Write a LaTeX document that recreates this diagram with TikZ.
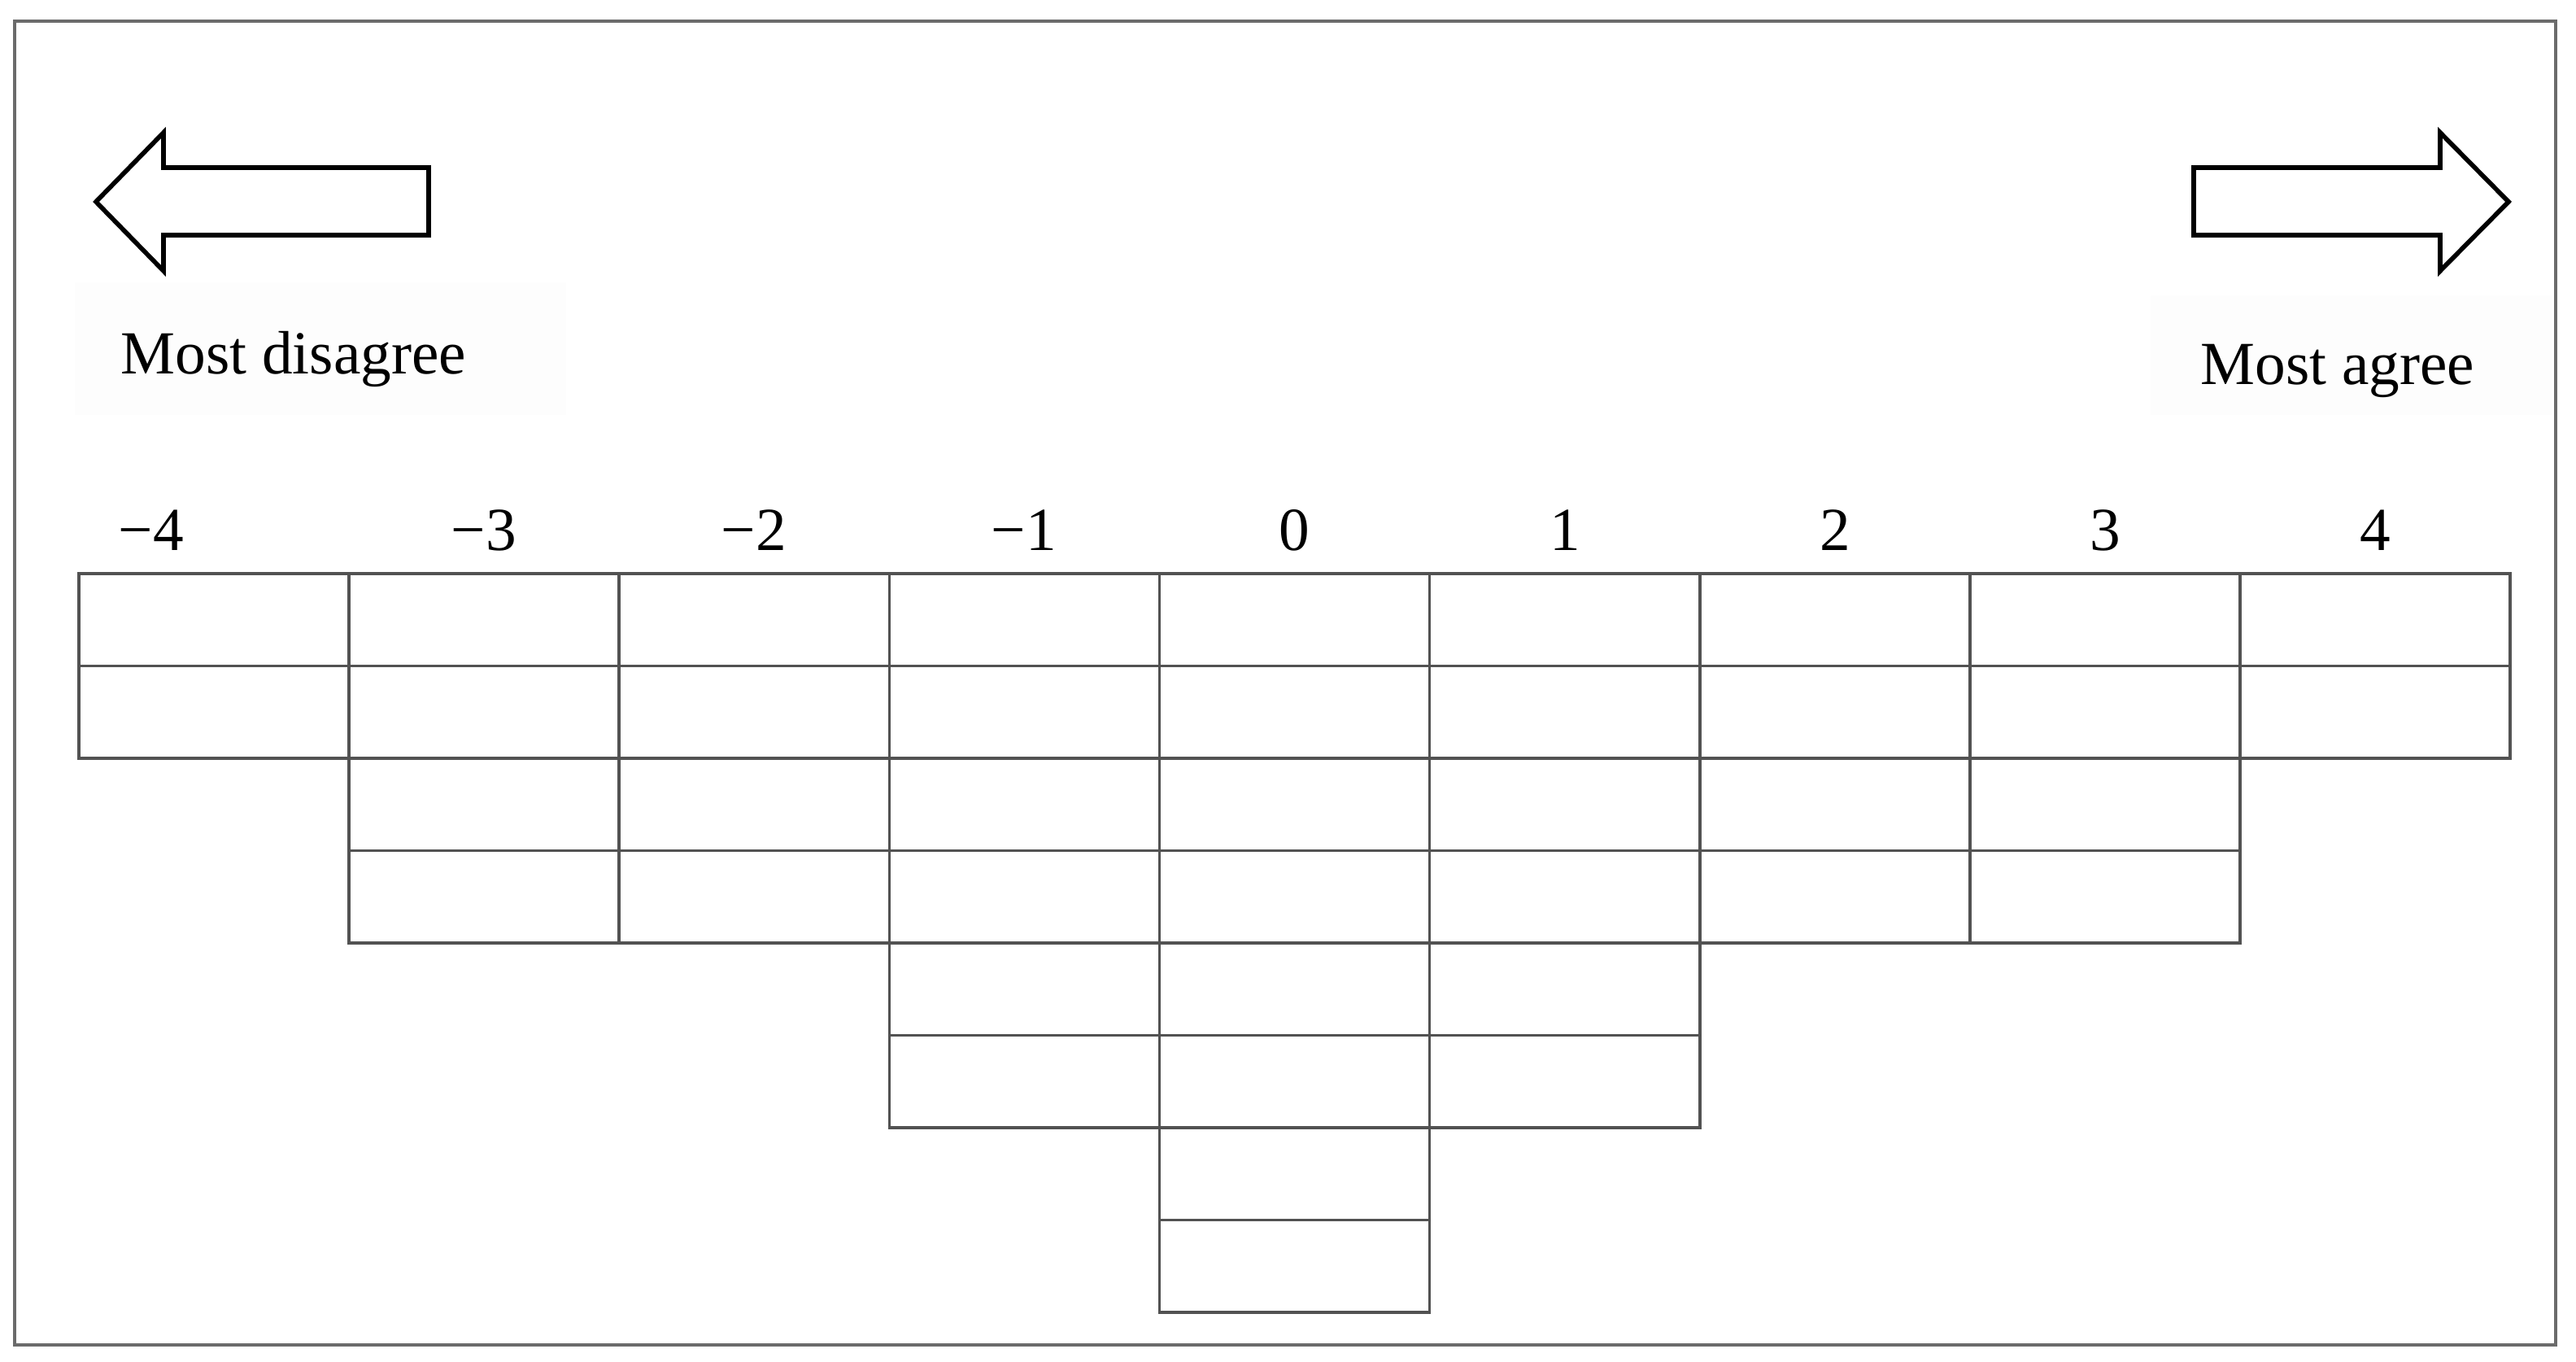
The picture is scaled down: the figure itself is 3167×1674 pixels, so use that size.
\documentclass[tikz,border=0pt]{standalone}
\usepackage{fontspec}
\setmainfont{Liberation Serif}
\begin{document}
\begin{tikzpicture}[x=0.01cm,y=-0.01cm,
  frame/.style={draw=black!58,line width=1.1pt},
  cell/.style={draw=black!68,line width=1pt,minimum width=3.321cm,minimum height=1.135cm,inner sep=0pt,outer sep=0pt,anchor=north west},
  bigarrow/.style={draw=black,line width=1.6pt,line join=miter,fill=white},
  lbl/.style={font=\fontsize{21.4}{25}\selectfont,inner sep=0pt},
  faint/.style={fill=black!0.8}]
\useasboundingbox (0,0) rectangle (3167,1674);
\fill[white] (0,0) rectangle (3167,1674);
\draw[frame] (18,26) rectangle (3142,1653);
% arrows
\draw[bigarrow] (118,248) -- (201,163) -- (201,206) -- (527,206) -- (527,289) -- (201,289) -- (201,333) -- cycle;
\draw[bigarrow] (2697,206) -- (3000,206) -- (3000,163) -- (3084,248) -- (3000,333) -- (3000,289) -- (2697,289) -- cycle;
% faint label panels
\fill[faint] (92,347) rectangle (696,510);
\fill[faint] (2644,363) rectangle (3138,510);
\node[lbl,anchor=base west] (dis) at (148,460) {Most disagree};
\node[lbl,anchor=base west] (agr) at (2705,473) {Most agree};
% grid
\foreach \n [count=\i from 0] in {2,4,4,6,8,6,4,4,2}{
  \foreach \r in {1,...,\n}{
    \node[cell] (c\i-\r) at ({97+332.1*\i},{705+113.5*(\r-1)}) {};
  }
}
% column labels
\foreach \t/\x [count=\i from 0] in {−4/186,−3/595,−2/927,−1/1259,0/1591,1/1924,2/2256,3/2588,4/2920}{
  \node[lbl,anchor=base] (h\i) at (\x,677) {\t};
}
\end{tikzpicture}
\end{document}
